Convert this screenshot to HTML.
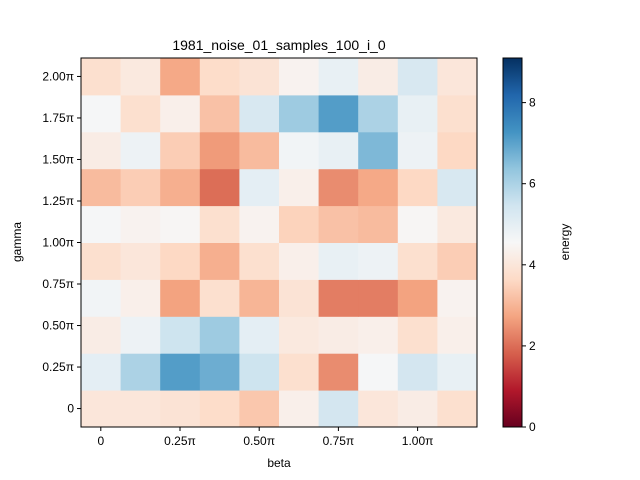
<!DOCTYPE html>
<html><head><meta charset="utf-8"><style>body{margin:0;background:#fff}svg{display:block;font-family:"Liberation Sans",sans-serif}</style></head>
<body>
<svg id="chart" width="640" height="480">
<defs><linearGradient id="rdbu" x1="0" y1="1" x2="0" y2="0">
<stop offset="0" stop-color="#67001f"/><stop offset="0.1" stop-color="#b2182b"/><stop offset="0.2" stop-color="#d6604d"/><stop offset="0.3" stop-color="#f4a582"/><stop offset="0.4" stop-color="#fddbc7"/><stop offset="0.5" stop-color="#f7f7f7"/><stop offset="0.6" stop-color="#d1e5f0"/><stop offset="0.7" stop-color="#92c5de"/><stop offset="0.8" stop-color="#4393c3"/><stop offset="0.9" stop-color="#2166ac"/><stop offset="1" stop-color="#053061"/></linearGradient></defs>
</svg>
<script>
const xTickLabels=["0","0.25π","0.50π","0.75π","1.00π"];
const yTickLabels=["0","0.25π","0.50π","0.75π","1.00π","1.25π","1.50π","1.75π","2.00π"];
const cbTicks=[0,2,4,6,8];
// rows from bottom (gamma=0) to top
const row0=[4.0,4.0,3.9,3.7,3.3,4.3,5.4,4.0,4.2,3.8];
const row1=[5.0,6.0,7.1,6.8,5.5,3.8,2.4,4.6,5.4,4.9];
const row2=[4.2,4.8,5.5,6.2,5.0,4.1,4.2,4.3,3.8,4.3];
const row3=[4.7,4.3,2.7,3.8,3.0,3.9,2.2,2.2,2.7,4.4];
const row4=[3.8,4.0,3.6,2.9,3.8,4.3,4.9,4.8,3.8,3.4];
const row5=[4.6,4.4,4.5,3.8,4.4,3.5,3.2,3.1,4.5,4.1];
const row6=[3.1,3.4,2.9,2.0,5.0,4.3,2.4,2.8,3.6,5.3];
const row7=[4.2,4.8,3.4,2.6,3.1,4.7,4.9,6.6,4.8,3.6];
const row8=[4.6,3.8,4.3,3.2,5.3,6.2,7.1,6.0,4.9,3.8];
const row9=[3.8,4.1,2.8,3.7,3.9,4.4,4.9,4.2,5.3,4.0];
const grid=[row0,row1,row2,row3,row4,row5,row6,row7,row8,row9];
const vmin=0,vmax=9.1;
const stops=["#67001f","#b2182b","#d6604d","#f4a582","#fddbc7","#f7f7f7","#d1e5f0","#92c5de","#4393c3","#2166ac","#053061"];
function hex(h){return [1,3,5].map(i=>parseInt(h.substr(i,2),16));}
function cmap(v){let t=Math.max(0,Math.min(1,(v-vmin)/(vmax-vmin)))*10;let i=Math.min(9,Math.floor(t)),f=t-i;
const a=hex(stops[i]),b=hex(stops[i+1]);return "rgb("+a.map((c,k)=>Math.round(c+(b[k]-c)*f)).join(",")+")";}
const L=81,R=477,T=58,B=427,nx=10,ny=10,cw=(R-L)/nx,ch=(B-T)/ny;
const xs=i=>L+(i+0.5)*cw, ys=j=>B-(j+0.5)*ch;
const svg=document.getElementById('chart'),NS="http://www.w3.org/2000/svg";
function mk(tag,at,txt){const e=document.createElementNS(NS,tag);for(const k in at)e.setAttribute(k,at[k]);if(txt!==undefined)e.textContent=txt;svg.appendChild(e);return e;}
grid.forEach((row,j)=>row.forEach((v,i)=>{const r=mk('rect',{x:xs(i)-cw/2,y:ys(j)-ch/2,width:cw+0.5,height:ch+0.5,fill:cmap(v)});

}));
const fr=mk('rect',{x:L,y:T,width:R-L,height:B-T,fill:'none',stroke:'#000','stroke-width':1});


xTickLabels.forEach((s,k)=>{const x=xs(k*2);mk('line',{x1:x,x2:x,y1:B,y2:B+4,stroke:'#000'});
const t=mk('text',{x:x,y:B+18,'font-size':12,'text-anchor':'middle'},s);

});
yTickLabels.forEach((s,k)=>{const y=B-ch/2-k*(9*ch/8);mk('line',{x1:L-4,x2:L,y1:y,y2:y,stroke:'#000'});
const t=mk('text',{x:L-7,y:y+4,'font-size':12,'text-anchor':'end'},s);

});
const tt=mk('text',{x:(L+R)/2,y:50,'font-size':14,'text-anchor':'middle'},'1981_noise_01_samples_100_i_0');


const xl=mk('text',{x:(L+R)/2,y:467,'font-size':12,'text-anchor':'middle'},'beta');


const yl=mk('text',{x:21,y:242,'font-size':12,'text-anchor':'middle',transform:'rotate(-90 21 242)'},'gamma');


const CL=503,CR=522;
const cb=mk('rect',{x:CL,y:T,width:CR-CL,height:B-T,fill:'url(#rdbu)',stroke:'#000'});


cbTicks.forEach(v=>{const y=B-(v-vmin)/(vmax-vmin)*(B-T);mk('line',{x1:CR,x2:CR+4,y1:y,y2:y,stroke:'#000'});
const t=mk('text',{x:CR+7,y:y+4,'font-size':12},String(v));

});
const cl=mk('text',{x:569,y:242,'font-size':12,'text-anchor':'middle',transform:'rotate(-90 569 242)'},'energy');


</script>
</body></html>
